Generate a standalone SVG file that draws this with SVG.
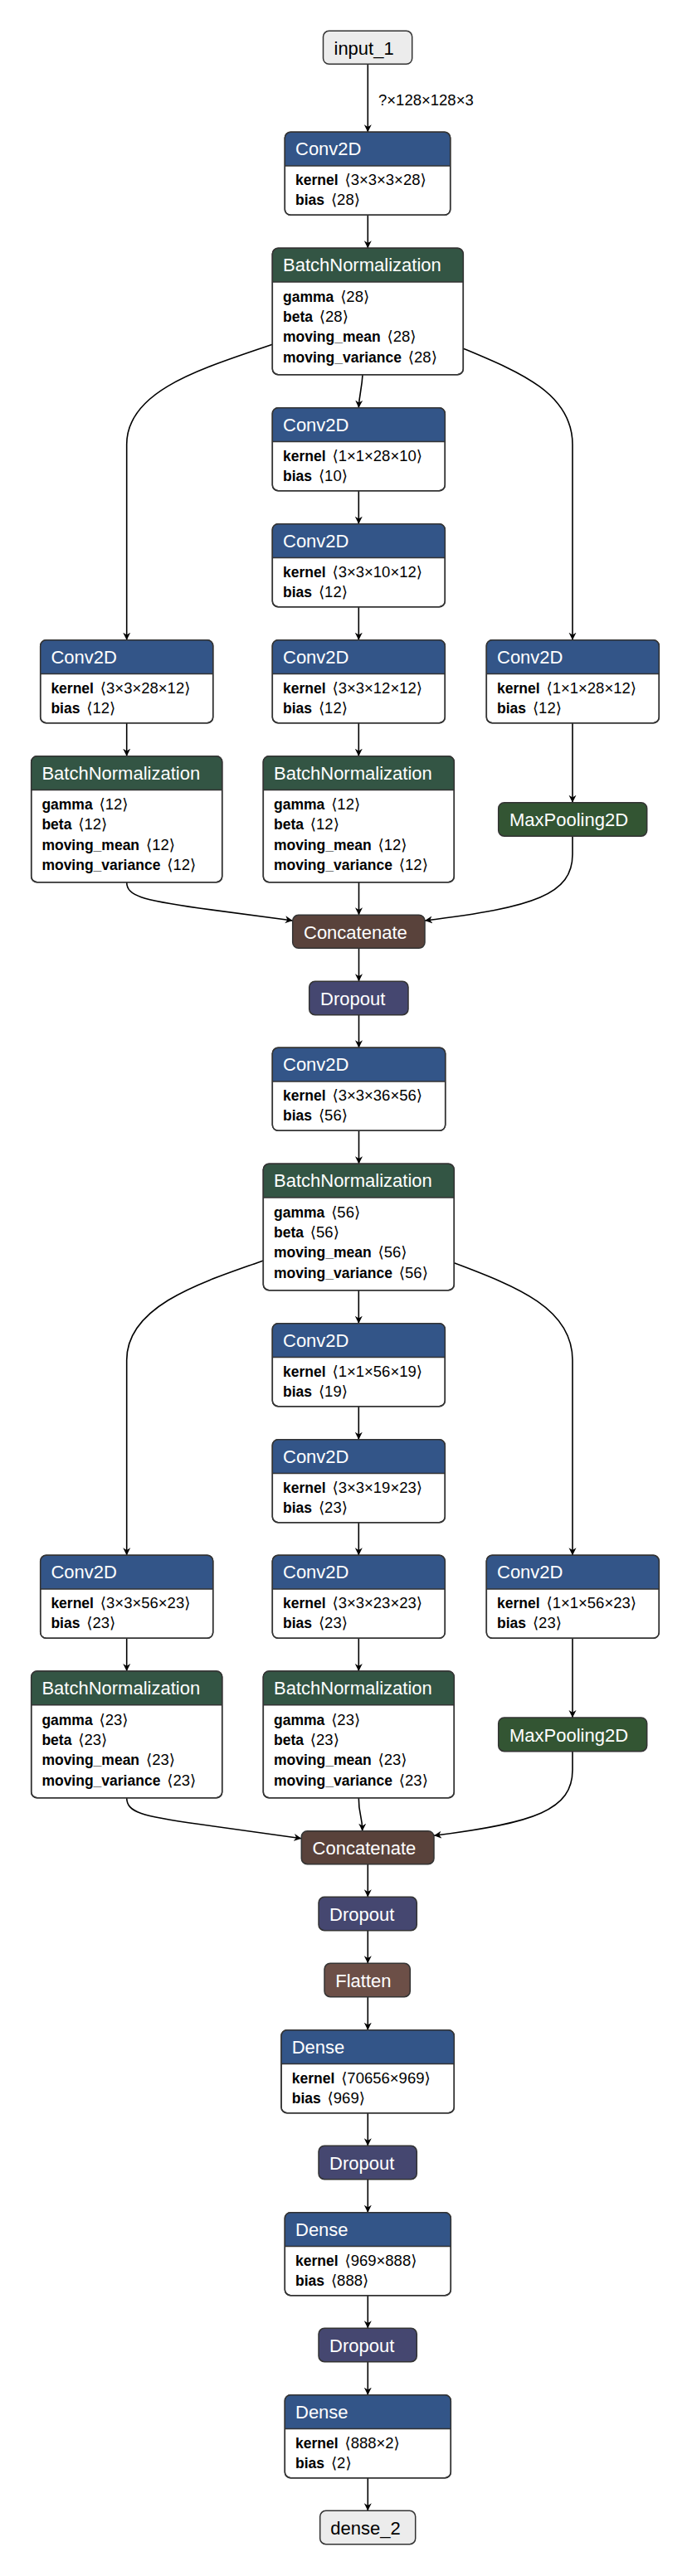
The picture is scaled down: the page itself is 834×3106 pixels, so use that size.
<svg xmlns="http://www.w3.org/2000/svg" width="834" height="3106" viewBox="0 0 834 3106">
<style>
.bg{fill:#fff}
.box{fill:#fff;stroke:#333;stroke-width:1.5}
.frame{fill:none;stroke:#333;stroke-width:1.5}
.div{stroke:#333;stroke-width:1.5}
.layer{fill:#335588}
.norm{fill:#335544}
.pool{fill:#335533;stroke:#333;stroke-width:1.5}
.drop{fill:#454770;stroke:#333;stroke-width:1.5}
.tensor{fill:#59423b;stroke:#333;stroke-width:1.5}
.shape{fill:#6c4f47;stroke:#333;stroke-width:1.5}
.io{fill:#ececec;stroke:#333;stroke-width:1.5}
.title{font-family:"Liberation Sans","DejaVu Sans",sans-serif;font-size:22px;fill:#fff}
.iotext{font-family:"Liberation Sans","DejaVu Sans",sans-serif;font-size:22px;fill:#000}
.attr{font-family:"Liberation Sans","DejaVu Sans",sans-serif;font-size:17.5px;fill:#000}
.b{font-weight:bold}
.v{font-size:18.5px}
.lbl{font-family:"Liberation Sans","DejaVu Sans",sans-serif;font-size:18.5px;fill:#000}
.edge{fill:none;stroke:#000;stroke-width:1.6;marker-end:url(#arrow)}
</style>
<defs>
<marker id="arrow" viewBox="0 0 10 10" refX="10" refY="5" markerWidth="9" markerHeight="10" markerUnits="userSpaceOnUse" orient="auto" preserveAspectRatio="none">
<path d="M0,0.5 L10,5 L0,9.5 L3,5 Z" fill="#000"/>
</marker>
</defs>
<rect class="bg" x="0" y="0" width="834" height="3106"/>

<g id="connectors">
<path class="edge" d="M443.3,77.3 L443.3,159.3"/>
<text class="lbl" x="456" y="127">?×128×128×3</text>
<path class="edge" d="M443.3,259.3 L443.3,299.3"/>
<path class="edge" d="M437,451.7 C436,470 433,475 432.3,491.7"/>
<path class="edge" d="M432.3,591.7 L432.3,631.7"/>
<path class="edge" d="M432.3,731.7 L432.3,771.7"/>
<path class="edge" d="M432.3,871.7 L432.3,911.7"/>
<path class="edge" d="M329,415 C245,444 152.7,470 152.7,536 L152.7,771.7"/>
<path class="edge" d="M558,420 C625,448 690,474 690,536 L690,771.7"/>
<path class="edge" d="M152.7,871.7 L152.7,911.7"/>
<path class="edge" d="M690,871.7 L690,967.7"/>
<path class="edge" d="M152.7,1063.7 C153,1080 170,1085 240,1095 L352.7,1110"/>
<path class="edge" d="M432.5,1063.7 L432.5,1103.3"/>
<path class="edge" d="M690,1008.2 L690,1030 C690,1078 645,1094 512,1110"/>
<path class="edge" d="M432.5,1143.3 L432.5,1183.3"/>
<path class="edge" d="M432.5,1223.7 L432.5,1263.3"/>
<path class="edge" d="M432.5,1363.3 L432.5,1403.3"/>
<path class="edge" d="M432.3,1555.7 L432.3,1595.7"/>
<path class="edge" d="M432.3,1695.7 L432.3,1735.7"/>
<path class="edge" d="M432.3,1835.7 L432.3,1875.3"/>
<path class="edge" d="M432.3,1975.3 L432.3,2015"/>
<path class="edge" d="M317.3,1520 C240,1547 152.7,1575 152.7,1640 L152.7,1875.3"/>
<path class="edge" d="M547.3,1522.7 C625,1552 690,1578 690,1640 L690,1875.3"/>
<path class="edge" d="M152.7,1975.3 L152.7,2015"/>
<path class="edge" d="M690,1975.3 L690,2071"/>
<path class="edge" d="M152.7,2167.7 C153,2185 170,2190 240,2199.5 L363.3,2216.7"/>
<path class="edge" d="M432.3,2167.7 C432.3,2190 436.7,2188 436.7,2207.7"/>
<path class="edge" d="M690,2111.7 L690,2134 C690,2182 645,2198 523,2213.3"/>
<path class="edge" d="M443.3,2247.7 L443.3,2287.3"/>
<path class="edge" d="M443.3,2327.7 L443.3,2367.3"/>
<path class="edge" d="M443.3,2407.7 L443.3,2447.7"/>
<path class="edge" d="M443.3,2547.7 L443.3,2587.3"/>
<path class="edge" d="M443.3,2627.7 L443.3,2667.7"/>
<path class="edge" d="M443.3,2767.7 L443.3,2807.3"/>
<path class="edge" d="M443.3,2847.7 L443.3,2887.7"/>
<path class="edge" d="M443.3,2987.7 L443.3,3027.3"/>
</g>

<g id="input_1" transform="translate(389.5,37.3)">
<rect class="io" x="0" y="0" width="107.2" height="40" rx="7"/>
<text class="iotext" x="13" y="28.7">input_1</text>
</g>

<g id="conv2d_1" transform="translate(343.3,159.3)">
<rect class="box" x="0" y="0" width="199.4" height="100" rx="7"/>
<path class="layer" d="M0,40.7 V7 A7,7 0 0 1 7,0 H192.4 A7,7 0 0 1 199.4,7 V40.7 Z"/>
<rect class="frame" x="0" y="0" width="199.4" height="100" rx="7"/>
<line class="div" x1="0" y1="40.7" x2="199.4" y2="40.7"/>
<text class="title" x="12.7" y="28">Conv2D</text>
<text class="attr" x="12.7" y="64"><tspan class="b">kernel</tspan> <tspan class="v" dx="3">⟨3×3×3×28⟩</tspan></text>
<text class="attr" x="12.7" y="88"><tspan class="b">bias</tspan> <tspan class="v" dx="3">⟨28⟩</tspan></text>
</g>

<g id="batchnorm_1" transform="translate(328.3,299.3)">
<rect class="box" x="0" y="0" width="230" height="152.4" rx="7"/>
<path class="norm" d="M0,40.7 V7 A7,7 0 0 1 7,0 H223 A7,7 0 0 1 230,7 V40.7 Z"/>
<rect class="frame" x="0" y="0" width="230" height="152.4" rx="7"/>
<line class="div" x1="0" y1="40.7" x2="230" y2="40.7"/>
<text class="title" x="12.7" y="28">BatchNormalization</text>
<text class="attr" x="12.7" y="64.5"><tspan class="b">gamma</tspan> <tspan class="v" dx="3">⟨28⟩</tspan></text>
<text class="attr" x="12.7" y="88.7"><tspan class="b">beta</tspan> <tspan class="v" dx="3">⟨28⟩</tspan></text>
<text class="attr" x="12.7" y="113"><tspan class="b">moving_mean</tspan> <tspan class="v" dx="3">⟨28⟩</tspan></text>
<text class="attr" x="12.7" y="137.7"><tspan class="b">moving_variance</tspan> <tspan class="v" dx="3">⟨28⟩</tspan></text>
</g>

<g id="conv2d_2" transform="translate(328.3,491.7)">
<rect class="box" x="0" y="0" width="208" height="100" rx="7"/>
<path class="layer" d="M0,40.7 V7 A7,7 0 0 1 7,0 H201 A7,7 0 0 1 208,7 V40.7 Z"/>
<rect class="frame" x="0" y="0" width="208" height="100" rx="7"/>
<line class="div" x1="0" y1="40.7" x2="208" y2="40.7"/>
<text class="title" x="12.7" y="28">Conv2D</text>
<text class="attr" x="12.7" y="64"><tspan class="b">kernel</tspan> <tspan class="v" dx="3">⟨1×1×28×10⟩</tspan></text>
<text class="attr" x="12.7" y="88"><tspan class="b">bias</tspan> <tspan class="v" dx="3">⟨10⟩</tspan></text>
</g>

<g id="conv2d_3" transform="translate(328.3,631.7)">
<rect class="box" x="0" y="0" width="208" height="100" rx="7"/>
<path class="layer" d="M0,40.7 V7 A7,7 0 0 1 7,0 H201 A7,7 0 0 1 208,7 V40.7 Z"/>
<rect class="frame" x="0" y="0" width="208" height="100" rx="7"/>
<line class="div" x1="0" y1="40.7" x2="208" y2="40.7"/>
<text class="title" x="12.7" y="28">Conv2D</text>
<text class="attr" x="12.7" y="64"><tspan class="b">kernel</tspan> <tspan class="v" dx="3">⟨3×3×10×12⟩</tspan></text>
<text class="attr" x="12.7" y="88"><tspan class="b">bias</tspan> <tspan class="v" dx="3">⟨12⟩</tspan></text>
</g>

<g id="conv2d_4" transform="translate(48.7,771.7)">
<rect class="box" x="0" y="0" width="208" height="100" rx="7"/>
<path class="layer" d="M0,40.7 V7 A7,7 0 0 1 7,0 H201 A7,7 0 0 1 208,7 V40.7 Z"/>
<rect class="frame" x="0" y="0" width="208" height="100" rx="7"/>
<line class="div" x1="0" y1="40.7" x2="208" y2="40.7"/>
<text class="title" x="12.7" y="28">Conv2D</text>
<text class="attr" x="12.7" y="64"><tspan class="b">kernel</tspan> <tspan class="v" dx="3">⟨3×3×28×12⟩</tspan></text>
<text class="attr" x="12.7" y="88"><tspan class="b">bias</tspan> <tspan class="v" dx="3">⟨12⟩</tspan></text>
</g>

<g id="conv2d_5" transform="translate(328.3,771.7)">
<rect class="box" x="0" y="0" width="208" height="100" rx="7"/>
<path class="layer" d="M0,40.7 V7 A7,7 0 0 1 7,0 H201 A7,7 0 0 1 208,7 V40.7 Z"/>
<rect class="frame" x="0" y="0" width="208" height="100" rx="7"/>
<line class="div" x1="0" y1="40.7" x2="208" y2="40.7"/>
<text class="title" x="12.7" y="28">Conv2D</text>
<text class="attr" x="12.7" y="64"><tspan class="b">kernel</tspan> <tspan class="v" dx="3">⟨3×3×12×12⟩</tspan></text>
<text class="attr" x="12.7" y="88"><tspan class="b">bias</tspan> <tspan class="v" dx="3">⟨12⟩</tspan></text>
</g>

<g id="conv2d_6" transform="translate(586.3,771.7)">
<rect class="box" x="0" y="0" width="208" height="100" rx="7"/>
<path class="layer" d="M0,40.7 V7 A7,7 0 0 1 7,0 H201 A7,7 0 0 1 208,7 V40.7 Z"/>
<rect class="frame" x="0" y="0" width="208" height="100" rx="7"/>
<line class="div" x1="0" y1="40.7" x2="208" y2="40.7"/>
<text class="title" x="12.7" y="28">Conv2D</text>
<text class="attr" x="12.7" y="64"><tspan class="b">kernel</tspan> <tspan class="v" dx="3">⟨1×1×28×12⟩</tspan></text>
<text class="attr" x="12.7" y="88"><tspan class="b">bias</tspan> <tspan class="v" dx="3">⟨12⟩</tspan></text>
</g>

<g id="batchnorm_2" transform="translate(37.7,911.7)">
<rect class="box" x="0" y="0" width="230" height="152" rx="7"/>
<path class="norm" d="M0,40.7 V7 A7,7 0 0 1 7,0 H223 A7,7 0 0 1 230,7 V40.7 Z"/>
<rect class="frame" x="0" y="0" width="230" height="152" rx="7"/>
<line class="div" x1="0" y1="40.7" x2="230" y2="40.7"/>
<text class="title" x="12.7" y="28">BatchNormalization</text>
<text class="attr" x="12.7" y="64.5"><tspan class="b">gamma</tspan> <tspan class="v" dx="3">⟨12⟩</tspan></text>
<text class="attr" x="12.7" y="88.7"><tspan class="b">beta</tspan> <tspan class="v" dx="3">⟨12⟩</tspan></text>
<text class="attr" x="12.7" y="113"><tspan class="b">moving_mean</tspan> <tspan class="v" dx="3">⟨12⟩</tspan></text>
<text class="attr" x="12.7" y="137.7"><tspan class="b">moving_variance</tspan> <tspan class="v" dx="3">⟨12⟩</tspan></text>
</g>

<g id="batchnorm_3" transform="translate(317.3,911.7)">
<rect class="box" x="0" y="0" width="230" height="152" rx="7"/>
<path class="norm" d="M0,40.7 V7 A7,7 0 0 1 7,0 H223 A7,7 0 0 1 230,7 V40.7 Z"/>
<rect class="frame" x="0" y="0" width="230" height="152" rx="7"/>
<line class="div" x1="0" y1="40.7" x2="230" y2="40.7"/>
<text class="title" x="12.7" y="28">BatchNormalization</text>
<text class="attr" x="12.7" y="64.5"><tspan class="b">gamma</tspan> <tspan class="v" dx="3">⟨12⟩</tspan></text>
<text class="attr" x="12.7" y="88.7"><tspan class="b">beta</tspan> <tspan class="v" dx="3">⟨12⟩</tspan></text>
<text class="attr" x="12.7" y="113"><tspan class="b">moving_mean</tspan> <tspan class="v" dx="3">⟨12⟩</tspan></text>
<text class="attr" x="12.7" y="137.7"><tspan class="b">moving_variance</tspan> <tspan class="v" dx="3">⟨12⟩</tspan></text>
</g>

<g id="maxpooling2d_1" transform="translate(600.7,967.7)">
<rect class="pool" x="0" y="0" width="179" height="40.5" rx="7"/>
<text class="title" x="13.3" y="28.5">MaxPooling2D</text>
</g>

<g id="concatenate_1" transform="translate(352.7,1103.3)">
<rect class="tensor" x="0" y="0" width="159.3" height="40" rx="7"/>
<text class="title" x="13.3" y="28.5">Concatenate</text>
</g>

<g id="dropout_1" transform="translate(372.7,1183.3)">
<rect class="drop" x="0" y="0" width="119.3" height="40.4" rx="7"/>
<text class="title" x="13.3" y="28.5">Dropout</text>
</g>

<g id="conv2d_7" transform="translate(328.3,1263.3)">
<rect class="box" x="0" y="0" width="208.4" height="100" rx="7"/>
<path class="layer" d="M0,40.7 V7 A7,7 0 0 1 7,0 H201.4 A7,7 0 0 1 208.4,7 V40.7 Z"/>
<rect class="frame" x="0" y="0" width="208.4" height="100" rx="7"/>
<line class="div" x1="0" y1="40.7" x2="208.4" y2="40.7"/>
<text class="title" x="12.7" y="28">Conv2D</text>
<text class="attr" x="12.7" y="64"><tspan class="b">kernel</tspan> <tspan class="v" dx="3">⟨3×3×36×56⟩</tspan></text>
<text class="attr" x="12.7" y="88"><tspan class="b">bias</tspan> <tspan class="v" dx="3">⟨56⟩</tspan></text>
</g>

<g id="batchnorm_4" transform="translate(317.3,1403.3)">
<rect class="box" x="0" y="0" width="230" height="152.4" rx="7"/>
<path class="norm" d="M0,40.7 V7 A7,7 0 0 1 7,0 H223 A7,7 0 0 1 230,7 V40.7 Z"/>
<rect class="frame" x="0" y="0" width="230" height="152.4" rx="7"/>
<line class="div" x1="0" y1="40.7" x2="230" y2="40.7"/>
<text class="title" x="12.7" y="28">BatchNormalization</text>
<text class="attr" x="12.7" y="64.5"><tspan class="b">gamma</tspan> <tspan class="v" dx="3">⟨56⟩</tspan></text>
<text class="attr" x="12.7" y="88.7"><tspan class="b">beta</tspan> <tspan class="v" dx="3">⟨56⟩</tspan></text>
<text class="attr" x="12.7" y="113"><tspan class="b">moving_mean</tspan> <tspan class="v" dx="3">⟨56⟩</tspan></text>
<text class="attr" x="12.7" y="137.7"><tspan class="b">moving_variance</tspan> <tspan class="v" dx="3">⟨56⟩</tspan></text>
</g>

<g id="conv2d_8" transform="translate(328.3,1595.7)">
<rect class="box" x="0" y="0" width="208" height="100" rx="7"/>
<path class="layer" d="M0,40.7 V7 A7,7 0 0 1 7,0 H201 A7,7 0 0 1 208,7 V40.7 Z"/>
<rect class="frame" x="0" y="0" width="208" height="100" rx="7"/>
<line class="div" x1="0" y1="40.7" x2="208" y2="40.7"/>
<text class="title" x="12.7" y="28">Conv2D</text>
<text class="attr" x="12.7" y="64"><tspan class="b">kernel</tspan> <tspan class="v" dx="3">⟨1×1×56×19⟩</tspan></text>
<text class="attr" x="12.7" y="88"><tspan class="b">bias</tspan> <tspan class="v" dx="3">⟨19⟩</tspan></text>
</g>

<g id="conv2d_9" transform="translate(328.3,1735.7)">
<rect class="box" x="0" y="0" width="208" height="100" rx="7"/>
<path class="layer" d="M0,40.7 V7 A7,7 0 0 1 7,0 H201 A7,7 0 0 1 208,7 V40.7 Z"/>
<rect class="frame" x="0" y="0" width="208" height="100" rx="7"/>
<line class="div" x1="0" y1="40.7" x2="208" y2="40.7"/>
<text class="title" x="12.7" y="28">Conv2D</text>
<text class="attr" x="12.7" y="64"><tspan class="b">kernel</tspan> <tspan class="v" dx="3">⟨3×3×19×23⟩</tspan></text>
<text class="attr" x="12.7" y="88"><tspan class="b">bias</tspan> <tspan class="v" dx="3">⟨23⟩</tspan></text>
</g>

<g id="conv2d_10" transform="translate(48.7,1875.3)">
<rect class="box" x="0" y="0" width="208" height="100" rx="7"/>
<path class="layer" d="M0,40.7 V7 A7,7 0 0 1 7,0 H201 A7,7 0 0 1 208,7 V40.7 Z"/>
<rect class="frame" x="0" y="0" width="208" height="100" rx="7"/>
<line class="div" x1="0" y1="40.7" x2="208" y2="40.7"/>
<text class="title" x="12.7" y="28">Conv2D</text>
<text class="attr" x="12.7" y="64"><tspan class="b">kernel</tspan> <tspan class="v" dx="3">⟨3×3×56×23⟩</tspan></text>
<text class="attr" x="12.7" y="88"><tspan class="b">bias</tspan> <tspan class="v" dx="3">⟨23⟩</tspan></text>
</g>

<g id="conv2d_11" transform="translate(328.3,1875.3)">
<rect class="box" x="0" y="0" width="208" height="100" rx="7"/>
<path class="layer" d="M0,40.7 V7 A7,7 0 0 1 7,0 H201 A7,7 0 0 1 208,7 V40.7 Z"/>
<rect class="frame" x="0" y="0" width="208" height="100" rx="7"/>
<line class="div" x1="0" y1="40.7" x2="208" y2="40.7"/>
<text class="title" x="12.7" y="28">Conv2D</text>
<text class="attr" x="12.7" y="64"><tspan class="b">kernel</tspan> <tspan class="v" dx="3">⟨3×3×23×23⟩</tspan></text>
<text class="attr" x="12.7" y="88"><tspan class="b">bias</tspan> <tspan class="v" dx="3">⟨23⟩</tspan></text>
</g>

<g id="conv2d_12" transform="translate(586.3,1875.3)">
<rect class="box" x="0" y="0" width="208" height="100" rx="7"/>
<path class="layer" d="M0,40.7 V7 A7,7 0 0 1 7,0 H201 A7,7 0 0 1 208,7 V40.7 Z"/>
<rect class="frame" x="0" y="0" width="208" height="100" rx="7"/>
<line class="div" x1="0" y1="40.7" x2="208" y2="40.7"/>
<text class="title" x="12.7" y="28">Conv2D</text>
<text class="attr" x="12.7" y="64"><tspan class="b">kernel</tspan> <tspan class="v" dx="3">⟨1×1×56×23⟩</tspan></text>
<text class="attr" x="12.7" y="88"><tspan class="b">bias</tspan> <tspan class="v" dx="3">⟨23⟩</tspan></text>
</g>

<g id="batchnorm_5" transform="translate(37.7,2015)">
<rect class="box" x="0" y="0" width="230" height="152.7" rx="7"/>
<path class="norm" d="M0,40.7 V7 A7,7 0 0 1 7,0 H223 A7,7 0 0 1 230,7 V40.7 Z"/>
<rect class="frame" x="0" y="0" width="230" height="152.7" rx="7"/>
<line class="div" x1="0" y1="40.7" x2="230" y2="40.7"/>
<text class="title" x="12.7" y="28">BatchNormalization</text>
<text class="attr" x="12.7" y="64.5"><tspan class="b">gamma</tspan> <tspan class="v" dx="3">⟨23⟩</tspan></text>
<text class="attr" x="12.7" y="88.7"><tspan class="b">beta</tspan> <tspan class="v" dx="3">⟨23⟩</tspan></text>
<text class="attr" x="12.7" y="113"><tspan class="b">moving_mean</tspan> <tspan class="v" dx="3">⟨23⟩</tspan></text>
<text class="attr" x="12.7" y="137.7"><tspan class="b">moving_variance</tspan> <tspan class="v" dx="3">⟨23⟩</tspan></text>
</g>

<g id="batchnorm_6" transform="translate(317.3,2015)">
<rect class="box" x="0" y="0" width="230" height="152.7" rx="7"/>
<path class="norm" d="M0,40.7 V7 A7,7 0 0 1 7,0 H223 A7,7 0 0 1 230,7 V40.7 Z"/>
<rect class="frame" x="0" y="0" width="230" height="152.7" rx="7"/>
<line class="div" x1="0" y1="40.7" x2="230" y2="40.7"/>
<text class="title" x="12.7" y="28">BatchNormalization</text>
<text class="attr" x="12.7" y="64.5"><tspan class="b">gamma</tspan> <tspan class="v" dx="3">⟨23⟩</tspan></text>
<text class="attr" x="12.7" y="88.7"><tspan class="b">beta</tspan> <tspan class="v" dx="3">⟨23⟩</tspan></text>
<text class="attr" x="12.7" y="113"><tspan class="b">moving_mean</tspan> <tspan class="v" dx="3">⟨23⟩</tspan></text>
<text class="attr" x="12.7" y="137.7"><tspan class="b">moving_variance</tspan> <tspan class="v" dx="3">⟨23⟩</tspan></text>
</g>

<g id="maxpooling2d_2" transform="translate(600.7,2071)">
<rect class="pool" x="0" y="0" width="179" height="40.7" rx="7"/>
<text class="title" x="13.3" y="28.5">MaxPooling2D</text>
</g>

<g id="concatenate_2" transform="translate(363.3,2207.7)">
<rect class="tensor" x="0" y="0" width="159.7" height="40" rx="7"/>
<text class="title" x="13.3" y="28.5">Concatenate</text>
</g>

<g id="dropout_2" transform="translate(384,2287.3)">
<rect class="drop" x="0" y="0" width="118.3" height="40.4" rx="7"/>
<text class="title" x="13" y="28.5">Dropout</text>
</g>

<g id="flatten_1" transform="translate(391,2367.3)">
<rect class="shape" x="0" y="0" width="103.3" height="40.4" rx="7"/>
<text class="title" x="13.3" y="28.5">Flatten</text>
</g>

<g id="dense_1" transform="translate(339,2447.7)">
<rect class="box" x="0" y="0" width="208.3" height="100" rx="7"/>
<path class="layer" d="M0,40.7 V7 A7,7 0 0 1 7,0 H201.3 A7,7 0 0 1 208.3,7 V40.7 Z"/>
<rect class="frame" x="0" y="0" width="208.3" height="100" rx="7"/>
<line class="div" x1="0" y1="40.7" x2="208.3" y2="40.7"/>
<text class="title" x="12.7" y="28">Dense</text>
<text class="attr" x="12.7" y="64"><tspan class="b">kernel</tspan> <tspan class="v" dx="3">⟨70656×969⟩</tspan></text>
<text class="attr" x="12.7" y="88"><tspan class="b">bias</tspan> <tspan class="v" dx="3">⟨969⟩</tspan></text>
</g>

<g id="dropout_3" transform="translate(384,2587.3)">
<rect class="drop" x="0" y="0" width="118.3" height="40.4" rx="7"/>
<text class="title" x="13" y="28.5">Dropout</text>
</g>

<g id="dense_2_layer" transform="translate(343.3,2667.7)">
<rect class="box" x="0" y="0" width="200" height="100" rx="7"/>
<path class="layer" d="M0,40.7 V7 A7,7 0 0 1 7,0 H193 A7,7 0 0 1 200,7 V40.7 Z"/>
<rect class="frame" x="0" y="0" width="200" height="100" rx="7"/>
<line class="div" x1="0" y1="40.7" x2="200" y2="40.7"/>
<text class="title" x="12.7" y="28">Dense</text>
<text class="attr" x="12.7" y="64"><tspan class="b">kernel</tspan> <tspan class="v" dx="3">⟨969×888⟩</tspan></text>
<text class="attr" x="12.7" y="88"><tspan class="b">bias</tspan> <tspan class="v" dx="3">⟨888⟩</tspan></text>
</g>

<g id="dropout_4" transform="translate(384,2807.3)">
<rect class="drop" x="0" y="0" width="118.3" height="40.4" rx="7"/>
<text class="title" x="13" y="28.5">Dropout</text>
</g>

<g id="dense_3_layer" transform="translate(343.3,2887.7)">
<rect class="box" x="0" y="0" width="200" height="100" rx="7"/>
<path class="layer" d="M0,40.7 V7 A7,7 0 0 1 7,0 H193 A7,7 0 0 1 200,7 V40.7 Z"/>
<rect class="frame" x="0" y="0" width="200" height="100" rx="7"/>
<line class="div" x1="0" y1="40.7" x2="200" y2="40.7"/>
<text class="title" x="12.7" y="28">Dense</text>
<text class="attr" x="12.7" y="64"><tspan class="b">kernel</tspan> <tspan class="v" dx="3">⟨888×2⟩</tspan></text>
<text class="attr" x="12.7" y="88"><tspan class="b">bias</tspan> <tspan class="v" dx="3">⟨2⟩</tspan></text>
</g>

<g id="output_dense_2" transform="translate(385.7,3027.3)">
<rect class="io" x="0" y="0" width="115" height="40.4" rx="7"/>
<text class="iotext" x="12.6" y="28.7">dense_2</text>
</g>
</svg>
